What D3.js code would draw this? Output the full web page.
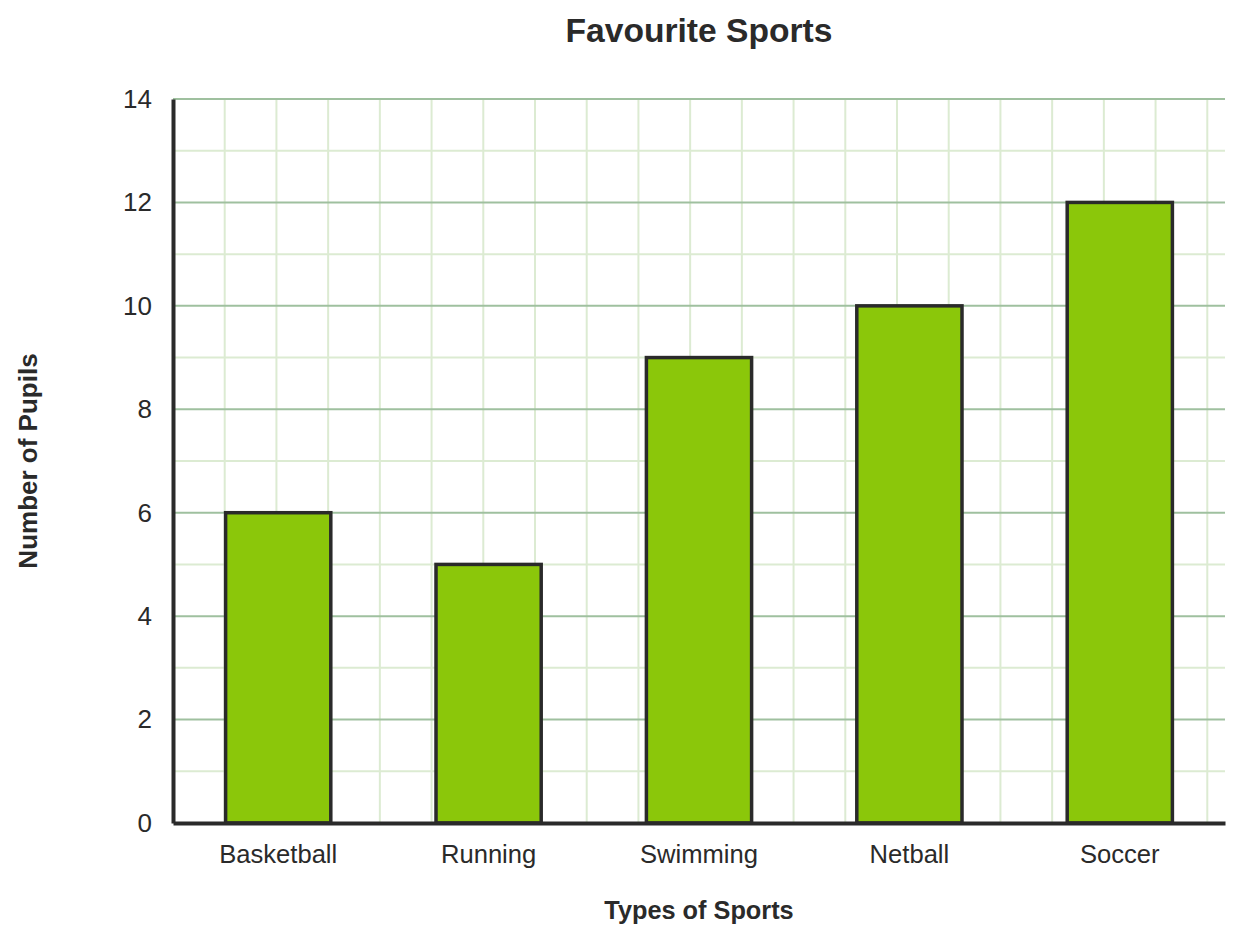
<!DOCTYPE html>
<html>
<head>
<meta charset="utf-8">
<script src="https://cdn.jsdelivr.net/npm/d3@7"></script>
<style>
  body { margin: 0; background: #fff; }
  text { font-family: "Liberation Sans", Arial, sans-serif; fill: #2a2a2a; }
</style>
</head>
<body>
<svg id="chart"></svg>
<script>
// data
var sports = ['Basketball', 'Running', 'Swimming', 'Netball', 'Soccer'];
var pupils = [6, 5, 9, 10, 12];
var yTicks = [0, 2, 4, 6, 8, 10, 12, 14];

var canvasWidth = 1243;
var canvasHeight = 942;
var margin = { top: 99, right: 18, bottom: 119, left: 173 };
var width = canvasWidth - margin.left - margin.right;
var height = canvasHeight - margin.top - margin.bottom;

var svg = d3.select('#chart')
  .attr('width', canvasWidth)
  .attr('height', canvasHeight);

var g = svg.append('g')
  .attr('transform', 'translate(' + margin.left + ',' + margin.top + ')');

var xScale = d3.scaleBand().domain(sports).range([0, width]).paddingInner(0.5).paddingOuter(0.25);
var yScale = d3.scaleLinear().domain([0, 14]).range([height, 0]);

// square grid: vertical lines use the same spacing as one unit on y
var unit = yScale(0) - yScale(1);
var vLines = d3.range(1, Math.floor(width / unit) + 1).map(function(k) { return k * unit; });

g.selectAll('.vgrid').data(vLines).enter().append('line')
  .attr('x1', d => d).attr('x2', d => d)
  .attr('y1', 0).attr('y2', height)
  .attr('stroke', '#dcebd2').attr('stroke-width', 2);

var minor = d3.range(1, 14).filter(d => d % 2 == 1);
g.selectAll('.hminor').data(minor).enter().append('line')
  .attr('x1', 0).attr('x2', width)
  .attr('y1', d => yScale(d)).attr('y2', d => yScale(d))
  .attr('stroke', '#dcebd2').attr('stroke-width', 2);

g.selectAll('.hmajor').data(yTicks.filter(d => d > 0)).enter().append('line')
  .attr('x1', 0).attr('x2', width)
  .attr('y1', d => yScale(d)).attr('y2', d => yScale(d))
  .attr('stroke', '#9fc09f').attr('stroke-width', 2);

// bars
g.selectAll('rect.bar').data(pupils).enter().append('rect')
  .attr('class', 'bar')
  .attr('x', (d, i) => xScale(sports[i]))
  .attr('y', d => yScale(d))
  .attr('width', xScale.bandwidth())
  .attr('height', d => height - yScale(d))
  .attr('fill', '#8bc70a')
  .attr('stroke', '#2a2a2a')
  .attr('stroke-width', 3.5);

// axes
var yAxis = g.append('g')
  .call(d3.axisLeft(yScale).tickValues(yTicks).tickSize(0).tickPadding(21));
yAxis.select('.domain').attr('stroke', '#2a2a2a').attr('stroke-width', 4);
yAxis.selectAll('text').style('font-size', '26px').attr('fill', '#2a2a2a');

var xAxis = g.append('g')
  .attr('transform', 'translate(0,' + height + ')')
  .call(d3.axisBottom(xScale).tickSize(0).tickPadding(22));
xAxis.select('.domain').attr('stroke', '#2a2a2a').attr('stroke-width', 4);
xAxis.selectAll('text').style('font-size', '25.6px').attr('fill', '#2a2a2a');

// titles
svg.append('text')
  .attr('x', margin.left + width / 2).attr('y', 42)
  .attr('text-anchor', 'middle')
  .style('font-size', '33.6px').style('font-weight', 'bold')
  .text('Favourite Sports');

svg.append('text')
  .attr('x', margin.left + width / 2).attr('y', 919)
  .attr('text-anchor', 'middle')
  .style('font-size', '25.3px').style('font-weight', 'bold')
  .text('Types of Sports');

svg.append('text')
  .attr('transform', 'translate(37,' + (margin.top + height / 2) + ') rotate(-90)')
  .attr('text-anchor', 'middle')
  .style('font-size', '26px').style('font-weight', 'bold')
  .text('Number of Pupils');
</script>
</body>
</html>
